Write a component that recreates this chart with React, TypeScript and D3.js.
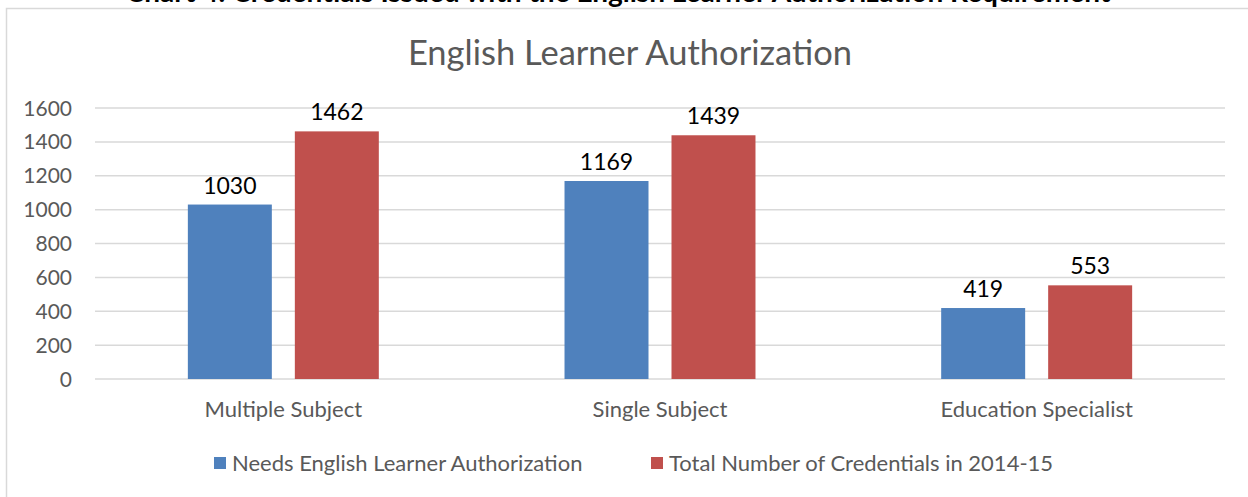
import React from 'react';
import * as d3 from 'd3';

const categories = ['Multiple Subject', 'Single Subject', 'Education Specialist'];
const seriesNames = ['Needs English Learner Authorization', 'Total Number of Credentials in 2014-15'];
const needsEL = [1030, 1169, 419];
const totalCreds = [1462, 1439, 553];
const yTicks = [0, 200, 400, 600, 800, 1000, 1200, 1400, 1600];
const colors = ['#4F81BD', '#C0504D'];

const W = 1248;
const H = 497;
const FONT = 'Lato, "Open Sans", sans-serif';

export default function App() {
  const margin = { left: 95, right: 23, top: 108, bottom: 118 };
  const plotBottom = H - margin.bottom; // 379

  const y = d3.scaleLinear().domain([0, 1600]).range([plotBottom, margin.top]);
  const x0 = d3
    .scaleBand<string>()
    .domain(categories)
    .range([margin.left, W - margin.right])
    .paddingInner(0.493)
    .paddingOuter(0.2465);
  const x1 = d3
    .scaleBand<number>()
    .domain([0, 1])
    .range([0, x0.bandwidth()])
    .paddingInner(0.215);

  const series = [needsEL, totalCreds];

  return (
    <svg width={W} height={H} style={{ position: 'absolute', left: 0, top: 0, background: '#fff' }}>
      {/* heading of the page above, mostly cropped away */}
      <text x={618} y={2} textAnchor="middle" fontFamily={FONT} fontWeight="bold" fontSize={28} fill="#000">
        Chart 4: Credentials Issued with the English Learner Authorization Requirement
      </text>
      <rect x={6.5} y={8.5} width={W + 10} height={H + 10} fill="#fff" stroke="#D9D9D9" strokeWidth={1.5} />

      <text x={630} y={65} textAnchor="middle" fontFamily={FONT} fontSize={34.5} fill="#595959">
        English Learner Authorization
      </text>

      {yTicks.map((t) => (
        <g key={t}>
          <line x1={margin.left} x2={W - margin.right} y1={y(t)} y2={y(t)} stroke="#D9D9D9" strokeWidth={1.5} />
          <text x={72} y={y(t)} dy="0.36em" textAnchor="end" fontFamily={FONT} fontSize={21} fill="#595959">
            {t}
          </text>
        </g>
      ))}

      {categories.map((c, i) => (
        <g key={c} transform={`translate(${x0(c)},0)`}>
          {series.map((s, j) => (
            <g key={j}>
              <rect
                x={x1(j)}
                y={y(s[i])}
                width={x1.bandwidth()}
                height={y(0) - y(s[i])}
                fill={colors[j]}
              />
              <text
                x={(x1(j) as number) + x1.bandwidth() / 2}
                y={y(s[i]) - 11}
                textAnchor="middle"
                fontFamily={FONT}
                fontSize={23}
                fill="#000"
              >
                {s[i]}
              </text>
            </g>
          ))}
          <text
            x={x0.bandwidth() / 2}
            y={417}
            textAnchor="middle"
            fontFamily={FONT}
            fontSize={22}
            fill="#595959"
          >
            {c}
          </text>
        </g>
      ))}

      {seriesNames.map((n, j) => {
        const lx = [214, 651][j];
        return (
          <g key={n}>
            <rect x={lx} y={457} width={12} height={12} fill={colors[j]} />
            <text x={lx + 18} y={471} fontFamily={FONT} fontSize={22} fill="#595959">
              {n}
            </text>
          </g>
        );
      })}
    </svg>
  );
}
